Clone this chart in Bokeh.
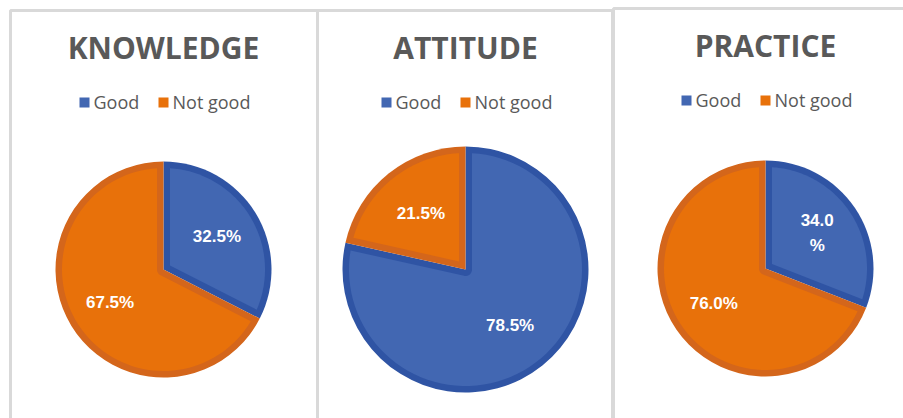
import math
import numpy as np
from bokeh.plotting import figure
from bokeh.models import Range1d
from bokeh.core.properties import value
from bokeh.embed import file_html
from bokeh.resources import INLINE

# ---- data ----
panels = ["KNOWLEDGE", "ATTITUDE", "PRACTICE"]
categories = ["Good", "Not good"]
good = [32.5, 78.5, 34.0]
not_good = [67.5, 21.5, 76.0]

# ---- styles / layout ----
FILL = ["#4267B2", "#E8710A"]
EDGE = ["#2F54A4", "#D4661B"]
TEXT_GRAY = "#595959"
BORDER_GRAY = "#D9D9D9"
pie_cx = [163, 465, 765]
pie_cy_img = [269, 269, 268]
pie_r = [108, 123, 108]
panel_left = [10, 317, 613]
panel_right = [317, 612, 930]
panel_top = [10, 10, 8]
band = 6.5
wrap_panels = {2}

W, H = 903, 418


def Y(yi):
    return H - yi


p = figure(width=W, height=H, x_range=Range1d(0, W), y_range=Range1d(0, H),
           output_backend="svg", toolbar_location=None, min_border=0)
p.axis.visible = False
p.grid.visible = False
p.outline_line_color = None
p.background_fill_color = "white"
p.border_fill_color = "white"

# panel frames
p.quad(left=panel_left, right=panel_right, top=[Y(t) for t in panel_top],
       bottom=[-60] * 3, fill_color=None, line_color=BORDER_GRAY, line_width=3)


def inset_poly(cx, cy, r, a1, a2, d, n=80):
    theta = a2 - a1
    ro = r - d
    delta = math.asin(d / ro)
    angs = np.linspace(a1 + delta, a2 - delta, n)
    xs = list(cx + ro * np.cos(angs))
    ys = list(cy + ro * np.sin(angs))
    if theta < math.pi:
        m = a1 + theta / 2
        h = d / math.sin(theta / 2)
        xs.append(cx + h * math.cos(m))
        ys.append(cy + h * math.sin(m))
    else:
        inner = np.linspace(a2 - math.pi / 2, a1 + math.pi / 2, 30)
        xs += list(cx + d * np.cos(inner))
        ys += list(cy + d * np.sin(inner))
    return xs, ys


for i, name in enumerate(panels):
    cx = pie_cx[i]
    cy = Y(pie_cy_img[i])
    r = pie_r[i]
    vals = [good[i], not_good[i]]
    total = sum(vals)
    cum = np.concatenate([[0], np.cumsum(vals) / total])
    starts = [math.pi / 2 - 2 * math.pi * cum[k + 1] for k in range(2)]
    ends = [math.pi / 2 - 2 * math.pi * cum[k] for k in range(2)]

    # slices: dark edge band + inner fill
    p.wedge(x=[cx] * 2, y=[cy] * 2, radius=r, start_angle=starts, end_angle=ends,
            fill_color=EDGE, line_color=None)
    xs_list, ys_list = [], []
    for k in range(2):
        xs, ys = inset_poly(cx, cy, r, starts[k], ends[k], band)
        xs_list.append(xs)
        ys_list.append(ys)
    p.patches(xs=xs_list, ys=ys_list, fill_color=FILL, line_color=None)

    # data labels
    for k in range(2):
        m = (starts[k] + ends[k]) / 2
        txt = f"{vals[k]:.1f}%"
        if k == 0 and i in wrap_panels:
            txt = f"{vals[k]:.1f}\n%"
        p.text(x=[cx + 0.58 * r * math.cos(m)], y=[cy + 0.58 * r * math.sin(m)], text=[txt],
               text_align="center", text_baseline="middle", text_color="white",
               text_font=value("Liberation Sans"), text_font_style="bold",
               text_font_size="17px", text_line_height=1.3)

    # title
    top = panel_top[i]
    p.text(x=[cx], y=[Y(top + 37)], text=[name], text_align="center",
           text_baseline="middle", text_color=TEXT_GRAY,
           text_font=value("Open Sans"), text_font_style="bold", text_font_size="30px")

    # legend
    ly = Y(top + 92)
    lx0 = cx - 84
    sq_x = [lx0 + 5, lx0 + 84]
    p.rect(x=sq_x, y=[ly] * 2, width=10, height=10, fill_color=FILL, line_color=None)
    p.text(x=[sx + 9 for sx in sq_x], y=[ly + 1] * 2, text=categories,
           text_align="left", text_baseline="middle", text_color=TEXT_GRAY,
           text_font=value("Open Sans"), text_font_size="18px")

open("out.html", "w").write(file_html(p, INLINE))
